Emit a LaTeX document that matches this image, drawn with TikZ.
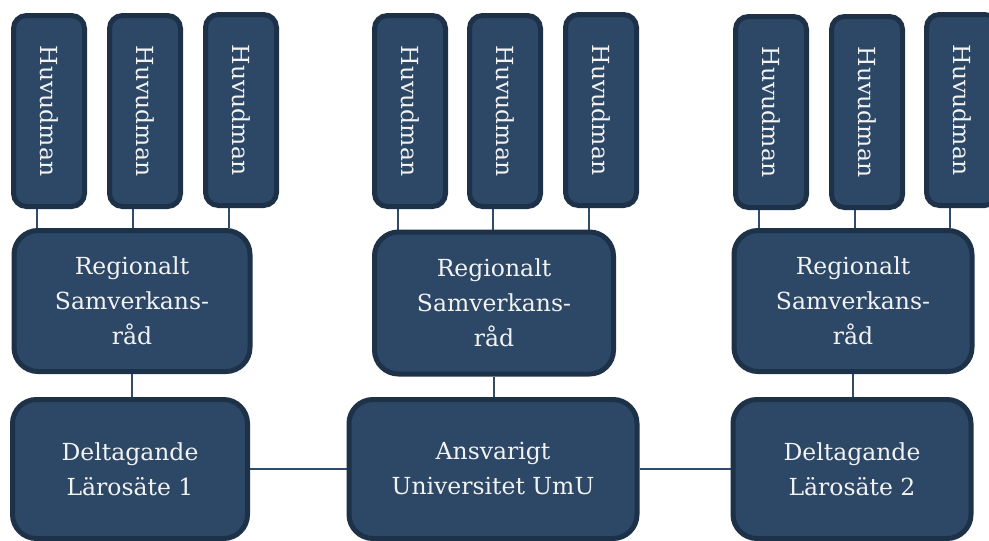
\documentclass[tikz,border=0pt]{standalone}
\usepackage{fontspec}
\usepackage{graphicx}
\setmainfont{DejaVu Serif}
\usetikzlibrary{backgrounds}
\definecolor{boxfill}{HTML}{2C4866}
\definecolor{boxedge}{HTML}{1D3149}
\definecolor{linecol}{HTML}{2F4D6B}
\definecolor{txt}{HTML}{F2F2F2}
\tikzset{
  box/.style={draw=boxedge, fill=boxfill, line width=5pt, text=txt, align=center,
    font=\fontsize{23.5}{35}\selectfont, inner sep=0pt},
  bigbox/.style={box, rounded corners=24pt},
  smallbox/.style={box, rounded corners=13pt, minimum width=71pt, minimum height=191pt},
  link/.style={draw=linecol, line width=1.8pt}
}
\begin{document}
\begin{tikzpicture}[x=1pt,y=-1pt]
\useasboundingbox (0,0) rectangle (989,541);
\clip (0,0) rectangle (989,541);
% small boxes
\node[smallbox] (a1) at (49,111) {\rotatebox{-90}{Huvudman}};
\node[smallbox] (a2) at (145,111) {\rotatebox{-90}{Huvudman}};
\node[smallbox] (a3) at (241,110) {\rotatebox{-90}{Huvudman}};
\node[smallbox] (b1) at (410,111) {\rotatebox{-90}{Huvudman}};
\node[smallbox] (b2) at (505,111) {\rotatebox{-90}{Huvudman}};
\node[smallbox] (b3) at (601,110) {\rotatebox{-90}{Huvudman}};
\node[smallbox] (c1) at (771,112) {\rotatebox{-90}{Huvudman}};
\node[smallbox] (c2) at (867,112) {\rotatebox{-90}{Huvudman}};
\node[smallbox] (c3) at (962,110) {\rotatebox{-90}{Huvudman}};
% regional boxes
\node[bigbox, minimum width=236pt, minimum height=141pt] (ra) at (132,301) {Regionalt\\Samverkans-\\råd};
\node[bigbox, minimum width=239pt, minimum height=142pt] (rb) at (494,303) {Regionalt\\Samverkans-\\råd};
\node[bigbox, minimum width=238pt, minimum height=141pt] (rc) at (853,301) {Regionalt\\Samverkans-\\råd};
% bottom boxes
\node[bigbox, minimum width=235pt, minimum height=139pt] (la) at (130,469) {Deltagande\\Lärosäte 1};
\node[bigbox, minimum width=288pt, minimum height=139pt] (lb) at (493,469) {Ansvarigt\\Universitet UmU};
\node[bigbox, minimum width=238pt, minimum height=139pt] (lc) at (852,469) {Deltagande\\Lärosäte 2};
\begin{scope}[on background layer]
\foreach \s/\r in {a1/ra,a2/ra,a3/ra,b1/rb,b2/rb,b3/rb,c1/rc,c2/rc,c3/rc}{
  \draw[link] ([xshift=-12pt]\s.south) -- ([xshift=-12pt]\s.south |- \r.north);
}
\draw[link] (ra.south) -- (ra.south |- la.north);
\draw[link] (rb.south) -- (rb.south |- lb.north);
\draw[link] (rc.south) -- (rc.south |- lc.north);
\draw[link] (la.east) -- (lb.west);
\draw[link] (lb.east) -- (lc.west);
\end{scope}
\end{tikzpicture}
\end{document}
